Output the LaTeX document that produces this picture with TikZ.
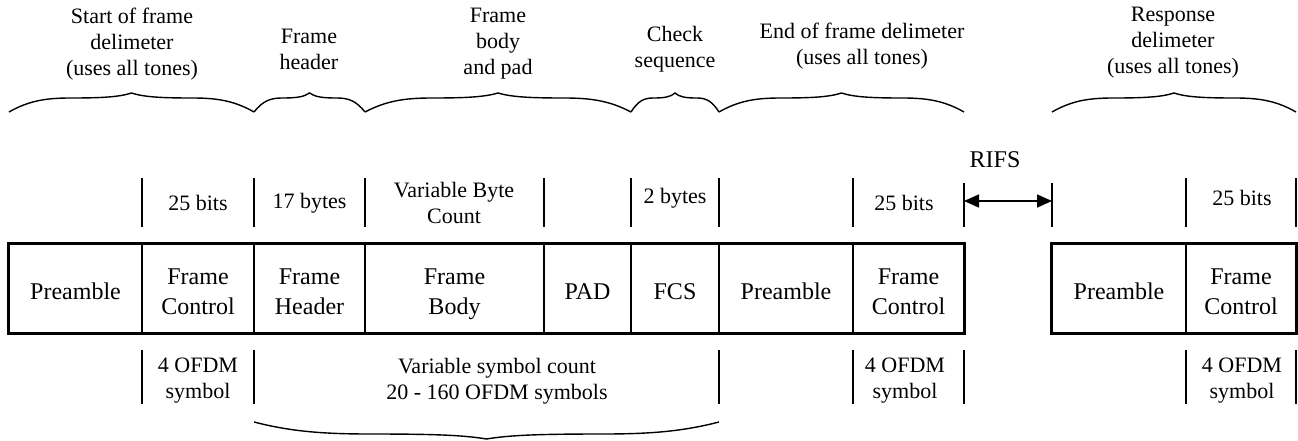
\documentclass[tikz,border=0pt]{standalone}
\usepackage{fontspec}
\setmainfont{Liberation Serif}
\usetikzlibrary{arrows.meta,calc}
\begin{document}
\begin{tikzpicture}[x=0.5pt,y=-0.5pt,
  cell/.style={draw,line width=0.6pt,minimum height=44.5pt,inner sep=0pt},
  celltext/.style={align=center,inner sep=0pt,font=\fontsize{12}{15}\selectfont},
  lbl/.style={align=center,inner sep=0pt,font=\fontsize{11}{13}\selectfont},
  tickline/.style={line width=0.75pt},
  brc/.style={line width=0.7pt},
  outer/.style={line width=1.1pt},
  rifsarrow/.style={{Triangle[length=7.5pt,width=6.5pt]}-{Triangle[length=7.5pt,width=6.5pt]},line width=0.8pt}]
\useasboundingbox (0,0) rectangle (1298,440);
\newcommand\cellnode[4]{%
  \node[cell,minimum width={(#3-#2)*0.5pt}] (#1) at ({(#2+#3)/2},288.5) {};
  \node[celltext] (#1-t) at ({(#2+#3)/2},293) {#4};}
\newcommand\hbrace[5]{%
  \pgfmathsetmacro\brW{#2-#1}\pgfmathsetmacro\brM{(#1+#2)/2}%
  \draw[brc] (#1,#3) .. controls ({#1+0.08*\brW},{#3+(#4-#3)*0.8}) and ({#1+0.15*\brW},#4) .. ({#1+0.25*\brW},#4)
    .. controls ({#1+0.38*\brW},#4) and ({\brM-0.05*\brW},{#4+(#5-#4)*0.2}) .. (\brM,#5)
    .. controls ({\brM+0.05*\brW},{#4+(#5-#4)*0.2}) and ({#2-0.38*\brW},#4) .. ({#2-0.25*\brW},#4)
    .. controls ({#2-0.15*\brW},#4) and ({#2-0.08*\brW},{#3+(#4-#3)*0.8}) .. (#2,#3);}
% cells
\cellnode{preA}{9}{142}{Preamble\strut}
\cellnode{fcA}{142}{254}{Frame\strut\\Control\strut}
\cellnode{fh}{254}{365}{Frame\strut\\Header\strut}
\cellnode{fb}{365}{544}{Frame\strut\\Body\strut}
\cellnode{pad}{544}{631}{PAD\strut}
\cellnode{fcs}{631}{719}{FCS\strut}
\cellnode{preB}{719}{853}{Preamble\strut}
\cellnode{fcB}{853}{964}{Frame\strut\\Control\strut}
\cellnode{preC}{1052}{1186}{Preamble\strut}
\cellnode{fcC}{1186}{1296}{Frame\strut\\Control\strut}
\draw[outer] (preA.north west) rectangle (fcB.south east);
\draw[outer] (preC.north west) rectangle (fcC.south east);
% top ticks
\foreach \x in {142,254,365,544,631,719,853,1186,1296}
  \draw[tickline] (\x,178) -- (\x,227);
\foreach \x in {964,1052}
  \draw[tickline] (\x,183) -- (\x,227);
% bottom ticks
\foreach \x in {142,254,719,853,964,1186,1296}
  \draw[tickline] (\x,350) -- (\x,404);
% RIFS
\coordinate (rifsL) at (964,201);
\coordinate (rifsR) at (1052,201);
\draw[rifsarrow] (rifsL) -- (rifsR);
\node[lbl,font=\fontsize{12}{14}\selectfont] (rifs) at (995,160) {RIFS};
% top per-field labels
\node[lbl] (b25a) at (198,203) {25 bits};
\node[lbl] (b17) at (309.5,203) {17 bytes};
\node[lbl] (vbc) at (454,203) {Variable Byte\\Count};
\node[lbl] (b2) at (675,198) {2 bytes};
\node[lbl] (b25b) at (904,203) {25 bits};
\node[lbl] (b25c) at (1242,198) {25 bits};
% bottom labels
\node[lbl] (ofA) at (198,381) {4 OFDM\\symbol};
\node[lbl] (vsc) at (497,381) {Variable symbol count\\20 - 160 OFDM symbols};
\node[lbl] (ofB) at (905,381) {4 OFDM\\symbol};
\node[lbl] (ofC) at (1242,381) {4 OFDM\\symbol};
% top group labels
\node[lbl] (sfd) at (132,44) {Start of frame\\delimeter\\(uses all tones)};
\node[lbl] (fhd) at (309,49) {Frame\\header};
\node[lbl] (fbp) at (498,44) {Frame\\body\\and pad};
\node[lbl] (chk) at (675,49) {Check\\sequence};
\node[lbl] (efd) at (862,46) {End of frame delimeter\\(uses all tones)};
\node[lbl] (rsd) at (1173,43) {Response\\delimeter\\(uses all tones)};
% braces
\hbrace{9}{254}{112}{98}{93}
\hbrace{254}{365}{112}{98}{93}
\hbrace{365}{631}{112}{98}{93}
\hbrace{631}{719}{112}{98}{93}
\hbrace{719}{964}{112}{98}{93}
\hbrace{1052}{1296}{112}{98}{93}
\hbrace{254}{719}{422}{434}{439}
\end{tikzpicture}
\end{document}
